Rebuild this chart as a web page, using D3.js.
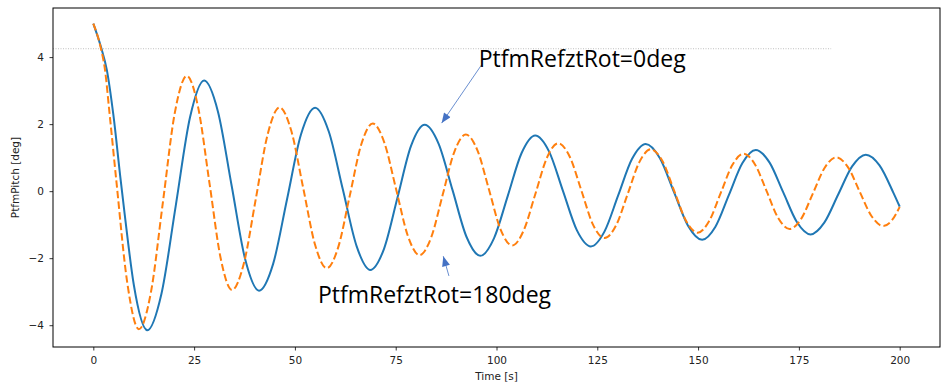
<!DOCTYPE html>
<html>
<head>
<meta charset="utf-8">
<script src="https://cdn.jsdelivr.net/npm/d3@7"></script>
<style>
  html, body { margin: 0; padding: 0; background: #fff; }
  svg { display: block; }
  .tick text { font-family: "DejaVu Sans", sans-serif; font-size: 10.5px; fill: #222; }
  .axis-label { font-family: "DejaVu Sans", sans-serif; font-size: 10.5px; fill: #222; }
  .note { font-family: "Open Sans", "Noto Sans", sans-serif; font-size: 23px; fill: #000; }
</style>
</head>
<body>
<div id="chart"></div>
<script>
// PtfmPitch decay, PtfmRefztRot = 0 deg  [time s, pitch deg]
const rot0Points = [
  [0, 5.00], [1.9, 4.30], [3.35, 3.62], [5.0, 2.25], [6.7, 0.42], [7.8, -0.71], [10.05, -2.80], [13.4, -4.15],
  [16.9, -3.06], [20.45, -0.43], [24.0, 2.21], [27.5, 3.30],
  [30.9, 2.38], [34.3, 0.17], [37.7, -2.05], [41.1, -2.97],
  [44.6, -2.17], [48.05, -0.24], [51.5, 1.69], [55.0, 2.49],
  [58.4, 1.78], [61.85, 0.07], [65.3, -1.64], [68.7, -2.35],
  [72.1, -1.72], [75.45, -0.19], [78.8, 1.35], [82.2, 1.98],
  [85.65, 1.41], [89.1, 0.03], [92.55, -1.36], [96.0, -1.93],
  [99.4, -1.40], [102.8, -0.14], [106.2, 1.13], [109.6, 1.66],
  [113.05, 1.18], [116.5, 0.0], [119.95, -1.17], [123.4, -1.65],
  [126.8, -1.20], [130.2, -0.12], [133.6, 0.96], [137.0, 1.41],
  [140.5, 0.99], [144.0, -0.02], [147.5, -1.03], [151.0, -1.45],
  [154.3, -1.06], [157.65, -0.11], [161.0, 0.84], [164.3, 1.23],
  [167.7, 0.86], [171.1, -0.03], [174.5, -0.92], [177.9, -1.29],
  [181.3, -0.94], [184.75, -0.10], [188.2, 0.74], [191.6, 1.09],
  [195.0, 0.77], [198.45, -0.05], [200, -0.46]
];

// PtfmPitch decay, PtfmRefztRot = 180 deg
const rot180Points = [
  [0, 5.00], [1.8, 4.30], [2.9, 3.62], [4.0, 2.35], [5.65, 0.38], [8.45, -2.76], [11.3, -4.12],
  [14.3, -3.01], [17.25, -0.34], [20.2, 2.33], [23.2, 3.44],
  [26.0, 2.50], [28.8, 0.25], [31.6, -2.01], [34.4, -2.95],
  [37.35, -2.15], [40.3, -0.23], [43.25, 1.70], [46.2, 2.50],
  [49.1, 1.80], [52.05, 0.10], [55.0, -1.60], [57.9, -2.30],
  [60.75, -1.67], [63.6, -0.14], [66.45, 1.39], [69.3, 2.02],
  [72.2, 1.44], [75.1, 0.06], [78.0, -1.33], [80.9, -1.91],
  [83.8, -1.38], [86.65, -0.11], [89.5, 1.16], [92.4, 1.69],
  [95.3, 1.21], [98.15, 0.04], [101.0, -1.14], [103.9, -1.62],
  [106.75, -1.17], [109.6, -0.10], [112.45, 0.98], [115.3, 1.43],
  [118.2, 1.02], [121.05, 0.02], [123.9, -0.99], [126.8, -1.40],
  [129.7, -1.01], [132.55, -0.08], [135.4, 0.86], [138.3, 1.25],
  [141.2, 0.89], [144.1, 0.0], [147.0, -0.88], [149.9, -1.24],
  [152.75, -0.89], [155.6, -0.06], [158.45, 0.77], [161.3, 1.12],
  [164.15, 0.79], [167.0, 0.0], [169.85, -0.80], [172.7, -1.13],
  [175.6, -0.82], [178.5, -0.06], [181.4, 0.70], [184.3, 1.01],
  [187.2, 0.71], [190.1, -0.02], [193.0, -0.74], [195.9, -1.04],
  [198.0, -0.88], [200, -0.47]
];

const xTicks = [0, 25, 50, 75, 100, 125, 150, 175, 200];
const yTicks = [-4, -2, 0, 2, 4];
const xDomain = [-10, 210];
const yDomain = [-4.65, 5.465];

// dotted reference line
const refLineX = [-10, 183];
const refLineY = 4.25;

// annotations, in data coordinates
const noteLabels = ['PtfmRefztRot=0deg', 'PtfmRefztRot=180deg'];
const noteTextAt = [[95.6, 3.69], [55.7, -3.34]];
const noteArrowFrom = [[96.3, 3.77], [88.2, -2.53]];
const noteArrowTo = [[86.4, 2.03], [86.8, -1.94]];

const width = 948;
const height = 389;
const frame = { left: 53, right: 940, top: 8, bottom: 347 };

const svg = d3.select('#chart')
  .append('svg')
  .attr('width', width)
  .attr('height', height);

const x = d3.scaleLinear().domain(xDomain).range([frame.left, frame.right]);
const y = d3.scaleLinear().domain(yDomain).range([frame.bottom, frame.top]);

svg.append('defs').append('marker')
  .attr('id', 'arrow-head')
  .attr('markerUnits', 'userSpaceOnUse')
  .attr('viewBox', '0 0 10 8')
  .attr('refX', 10)
  .attr('refY', 4)
  .attr('markerWidth', 11)
  .attr('markerHeight', 8)
  .attr('orient', 'auto')
  .append('path')
  .attr('d', 'M0,0 L10,4 L0,8 Z')
  .attr('fill', '#4472c4');

const plot = svg.append('g');

plot.append('line')
  .attr('x1', x(refLineX[0]))
  .attr('x2', x(refLineX[1]))
  .attr('y1', y(refLineY))
  .attr('y2', y(refLineY))
  .attr('stroke', '#b0b0b0')
  .attr('stroke-width', 0.8)
  .attr('stroke-dasharray', '1,1.5');

const line = d3.line()
  .x((d) => x(d[0]))
  .y((d) => y(d[1]))
  .curve(d3.curveMonotoneX);

plot.append('path')
  .datum(rot0Points)
  .attr('fill', 'none')
  .attr('stroke', '#1f77b4')
  .attr('stroke-width', 2)
  .attr('d', line);

plot.append('path')
  .datum(rot180Points)
  .attr('fill', 'none')
  .attr('stroke', '#ff7f0e')
  .attr('stroke-width', 2)
  .attr('stroke-dasharray', '7.4,3.2')
  .attr('d', line);

noteLabels.forEach((label, i) => {
  plot.append('line')
    .attr('x1', x(noteArrowFrom[i][0]))
    .attr('y1', y(noteArrowFrom[i][1]))
    .attr('x2', x(noteArrowTo[i][0]))
    .attr('y2', y(noteArrowTo[i][1]))
    .attr('stroke', '#4472c4')
    .attr('stroke-width', 0.8)
    .attr('marker-end', 'url(#arrow-head)');

  plot.append('text')
    .attr('class', 'note')
    .attr('x', x(noteTextAt[i][0]))
    .attr('y', y(noteTextAt[i][1]))
    .text(label);
});

const axisX = svg.append('g')
  .attr('transform', `translate(0,${frame.bottom})`)
  .call(d3.axisBottom(x).tickValues(xTicks).tickSize(3.5).tickPadding(6.5).tickSizeOuter(0));

const axisY = svg.append('g')
  .attr('transform', `translate(${frame.left},0)`)
  .call(d3.axisLeft(y).tickValues(yTicks).tickSize(3.5).tickPadding(5.5).tickSizeOuter(0));

[axisX, axisY].forEach((axis) => {
  axis.select('.domain').remove();
  axis.selectAll('.tick line').attr('stroke', '#000').attr('stroke-width', 0.8);
});

svg.append('rect')
  .attr('x', frame.left)
  .attr('y', frame.top)
  .attr('width', frame.right - frame.left)
  .attr('height', frame.bottom - frame.top)
  .attr('fill', 'none')
  .attr('stroke', '#000')
  .attr('stroke-width', 1);

svg.append('text')
  .attr('class', 'axis-label')
  .attr('x', (frame.left + frame.right) / 2)
  .attr('y', 380)
  .attr('text-anchor', 'middle')
  .text('Time [s]');

svg.append('text')
  .attr('class', 'axis-label')
  .attr('transform', `translate(19,${(frame.top + frame.bottom) / 2}) rotate(-90)`)
  .attr('text-anchor', 'middle')
  .text('PtfmPitch [deg]');
</script>
</body>
</html>
